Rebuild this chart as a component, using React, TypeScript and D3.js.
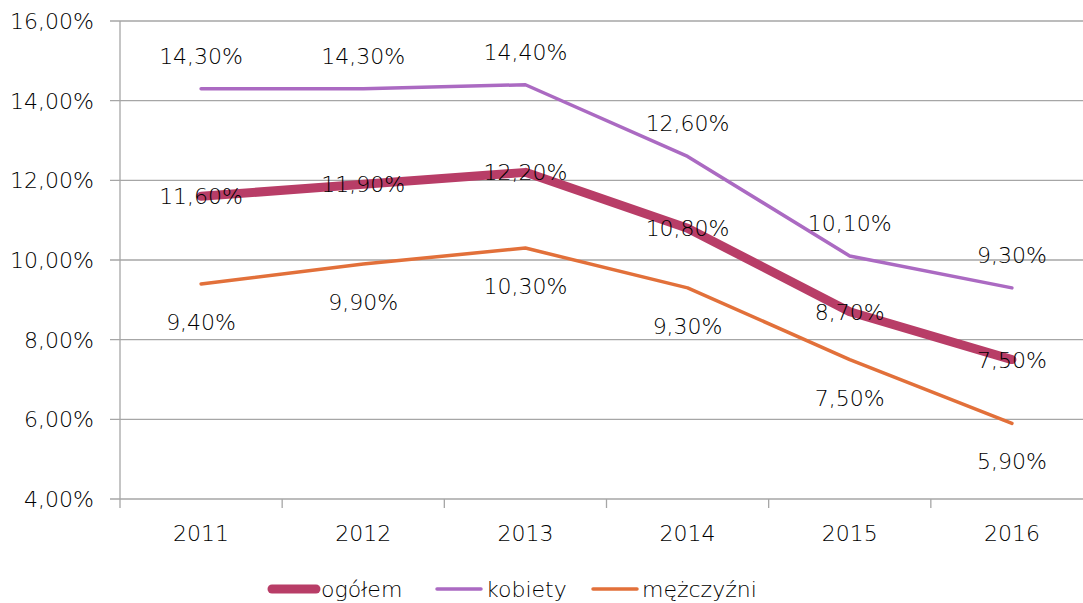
import React from "react";
import * as d3 from "d3";

const years = ["2011", "2012", "2013", "2014", "2015", "2016"];
const ogolem = [11.6, 11.9, 12.2, 10.8, 8.7, 7.5];
const kobiety = [14.3, 14.3, 14.4, 12.6, 10.1, 9.3];
const mezczyzni = [9.4, 9.9, 10.3, 9.3, 7.5, 5.9];
const yTicks = [4, 6, 8, 10, 12, 14, 16];

const seriesDefs = [
  { name: "ogółem", values: ogolem, color: "#B83D67", width: 9, labelPos: "center" },
  { name: "kobiety", values: kobiety, color: "#AB6AC2", width: 3.5, labelPos: "above" },
  { name: "mężczyźni", values: mezczyzni, color: "#E2703A", width: 3.5, labelPos: "below" },
];

const W = 1083;
const H = 603;
const FONT = "'DejaVu Sans', sans-serif";
const FS = 22;
const FW = 300;
const TXT = "#000";

const fmt = (v: number) => v.toFixed(2).replace(".", ",") + "%";

export default function App() {
  const x = d3.scaleBand<string>().domain(years).range([120, 1093]);
  const y = d3.scaleLinear().domain([4, 16]).range([499, 21]);
  const cx = (d: string) => (x(d) as number) + x.bandwidth() / 2;
  const line = d3
    .line<number>()
    .x((_, i) => cx(years[i]))
    .y((v) => y(v));

  const legendItems = [
    { x0: 272, tx: 321 },
    { x0: 437, tx: 486 },
    { x0: 593, tx: 642 },
  ];

  return (
    <svg
      width={W}
      height={H}
      style={{ position: "absolute", left: 0, top: 0, background: "#fff" }}
      fontFamily={FONT}
      fontWeight={FW}
    >
      {yTicks.map((t) => (
        <g key={t}>
          <line x1={110} x2={W} y1={y(t)} y2={y(t)} stroke="#A6A6A6" strokeWidth={1.3} />
          <text x={94} y={y(t)} dy="0.36em" textAnchor="end" fontSize={FS} fill={TXT}>
            {fmt(t)}
          </text>
        </g>
      ))}
      <line x1={120} x2={120} y1={y(16)} y2={y(4) + 9} stroke="#A6A6A6" strokeWidth={1.3} />
      {years.map((yr) => (
        <line
          key={"t" + yr}
          x1={(x(yr) as number) + x.bandwidth()}
          x2={(x(yr) as number) + x.bandwidth()}
          y1={y(4)}
          y2={y(4) + 9}
          stroke="#A6A6A6"
          strokeWidth={1.3}
        />
      ))}
      {years.map((yr) => (
        <text key={yr} x={cx(yr)} y={533} dy="0.36em" textAnchor="middle" fontSize={FS} fill={TXT}>
          {yr}
        </text>
      ))}
      {seriesDefs.map((s) => (
        <path
          key={s.name}
          d={line(s.values) as string}
          fill="none"
          stroke={s.color}
          strokeWidth={s.width}
          strokeLinecap="round"
          strokeLinejoin="round"
        />
      ))}
      {seriesDefs.map((s) =>
        s.values.map((v, i) => {
          const off = s.labelPos === "above" ? -33 : s.labelPos === "below" ? 38 : 0;
          return (
            <text
              key={s.name + i}
              x={cx(years[i])}
              y={y(v) + off}
              dy="0.36em"
              textAnchor="middle"
              fontSize={FS}
              fill={TXT}
            >
              {fmt(v)}
            </text>
          );
        })
      )}
      {seriesDefs.map((s, i) => (
        <g key={"lg" + s.name}>
          <line
            x1={legendItems[i].x0}
            x2={legendItems[i].x0 + 44}
            y1={589}
            y2={589}
            stroke={s.color}
            strokeWidth={s.width}
            strokeLinecap="round"
          />
          <text x={legendItems[i].tx} y={589} dy="0.36em" fontSize={FS} fill={TXT}>
            {s.name}
          </text>
        </g>
      ))}
    </svg>
  );
}
